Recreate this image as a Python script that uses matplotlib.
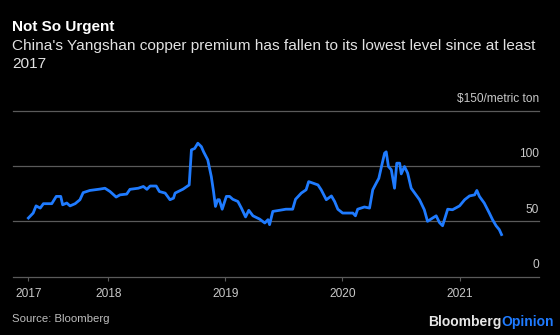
import matplotlib
matplotlib.use("Agg")
import matplotlib.pyplot as plt
import matplotlib.transforms as mtransforms
import pandas as pd

plt.rcParams['font.family'] = ['Liberation Sans', 'DejaVu Sans']

# Yangshan copper premium, $/metric ton
dates = ["2017-04-26", "2017-05-11", "2017-05-20", "2017-06-02", "2017-06-12", "2017-07-08",
         "2017-07-22", "2017-08-05", "2017-08-11", "2017-08-24", "2017-09-03", "2017-09-19",
         "2017-10-04", "2017-10-14", "2017-11-04", "2017-12-05", "2017-12-21", "2018-01-06",
         "2018-01-25", "2018-02-06", "2018-02-27", "2018-03-09", "2018-04-04", "2018-04-20",
         "2018-05-01", "2018-05-11", "2018-05-30", "2018-06-09", "2018-06-27", "2018-07-12",
         "2018-07-23", "2018-07-28", "2018-08-22", "2018-09-10", "2018-09-17", "2018-09-27",
         "2018-10-07", "2018-10-18", "2018-10-25", "2018-11-07", "2018-11-18", "2018-11-25",
         "2018-12-01", "2018-12-08", "2018-12-13", "2018-12-22", "2019-01-04", "2019-01-14",
         "2019-01-24", "2019-02-09", "2019-02-20", "2019-03-05", "2019-03-15", "2019-03-28",
         "2019-04-18", "2019-05-04", "2019-05-14", "2019-05-19", "2019-05-29", "2019-06-19",
         "2019-07-09", "2019-07-30", "2019-08-08", "2019-08-26", "2019-09-10", "2019-09-18",
         "2019-10-17", "2019-10-27", "2019-11-12", "2019-11-28", "2019-12-08", "2019-12-18",
         "2020-01-02", "2020-02-03", "2020-02-11", "2020-02-18", "2020-03-10", "2020-03-26",
         "2020-04-05", "2020-04-16", "2020-04-24", "2020-05-01", "2020-05-12", "2020-05-17",
         "2020-05-24", "2020-06-02", "2020-06-12", "2020-06-19", "2020-06-28", "2020-07-03",
         "2020-07-13", "2020-07-23", "2020-08-03", "2020-08-29", "2020-09-13", "2020-09-23",
         "2020-10-09", "2020-10-20", "2020-10-30", "2020-11-09", "2020-11-25", "2020-12-10",
         "2021-01-01", "2021-01-17", "2021-02-01", "2021-02-17", "2021-02-24", "2021-03-04",
         "2021-03-19", "2021-04-04", "2021-04-14", "2021-04-25", "2021-05-05", "2021-05-12"]
premium = [53, 57.5, 64, 62, 66, 66,
           72.6, 72.6, 65, 66.6, 64, 66,
           69.6, 76, 78, 79.2, 80, 77,
           72, 74, 74.7, 79, 80, 81.6,
           79, 82, 82, 77, 75.6, 69.6,
           71, 75.6, 79.2, 83, 114.8, 116,
           120.8, 117.7, 113, 105.7, 90.6, 77,
           63.5, 69.6, 69.6, 61, 72.6, 72.6,
           70, 68, 62, 54, 60, 55,
           52, 48.5, 51.5, 47, 59, 60,
           61, 61, 70, 75.6, 78.6, 86,
           83, 78.6, 69.6, 73, 68, 61,
           57.5, 57.5, 55, 61, 63, 62,
           78.6, 84.7, 89, 98, 111.8, 113,
           99.7, 96.7, 80, 102.7, 102.7, 93,
           99.7, 93.7, 80, 69.6, 60.5, 50,
           53, 55, 49, 46, 61, 60.5,
           64, 69.6, 73, 74, 78, 72.6,
           66.6, 57.5, 51.5, 46, 42.5, 38]

tick_dates = ["2017-04-26", "2018-01-01", "2019-01-01", "2020-01-01", "2021-01-01"]
tick_labels = ["2017", "2018", "2019", "2020", "2021"]
y_ticks = [0, 50, 100, 150]
y_labels = ["0", "50", "100", "$150/metric ton"]

title = "Not So Urgent"
subtitle = "China's Yangshan copper premium has fallen to its lowest level since at least\n2017"
source = "Source: Bloomberg"

bg = "black"
line_blue = "#1f7bff"
grid_grey = "#5a5a5a"
label_grey = "#c8c8c8"

W, H = 560, 335
fig = plt.figure(figsize=(W / 100, H / 100), dpi=100, facecolor=bg)
# axes box in pixels: x 13..539, y (0) 276.5 .. (150) 111
ax = fig.add_axes([13 / W, (H - 276.5) / H, (539 - 13) / W, (276.5 - 111) / H])
ax.set_facecolor(bg)

x = pd.to_datetime(dates)
ax.plot(x, premium, color=line_blue, linewidth=2.0, solid_joinstyle='round', zorder=3)

ax.set_ylim(0, 150)
ax.set_xlim(pd.Timestamp("2017-03-09"), pd.Timestamp("2021-09-06"))

for s in ax.spines.values():
    s.set_visible(False)

# horizontal gridlines + labels sitting above them at the right edge
trans = mtransforms.blended_transform_factory(ax.transAxes, ax.transData)
for v, lab in zip(y_ticks, y_labels):
    ax.axhline(v, color=grid_grey, linewidth=0.9, clip_on=False, zorder=1)
    ax.annotate(lab, xy=(1, v), xycoords=trans, xytext=(0, 6.3), textcoords='offset points',
                ha='right', va='baseline', color=label_grey, fontsize=8.6)
ax.set_yticks([])

ax.set_xticks(pd.to_datetime(tick_dates))
ax.set_xticklabels(tick_labels)
ax.tick_params(axis='x', direction='out', length=3, width=0.8, color=grid_grey,
               labelcolor=label_grey, labelsize=8.6, pad=5.5)

# titles (subtitle baseline refers to its last line)
fig.text(12.5 / W, 1 - 31 / H, title, color='white', fontsize=11, fontweight='bold',
         ha='left', va='baseline')
fig.text(12 / W, 1 - 68 / H, subtitle, color='#e2e2e2', fontsize=11.1,
         ha='left', va='baseline', linespacing=1.32)

fig.text(12.5 / W, 1 - 322 / H, source, color='#bdbdbd', fontsize=8.2, ha='left', va='baseline')

# BloombergOpinion logo
bb = fig.text(427.7 / W, 1 - 326 / H, "Bloomberg", color='#e6e6e6', fontsize=10,
              fontweight='bold', ha='left', va='baseline')
ax.annotate("Opinion", xy=(1, 0), xycoords=bb, ha='left', va='bottom',
            color='#1f7bff', fontsize=10, fontweight='bold')

fig.savefig("out.png", dpi=100, facecolor=bg)
